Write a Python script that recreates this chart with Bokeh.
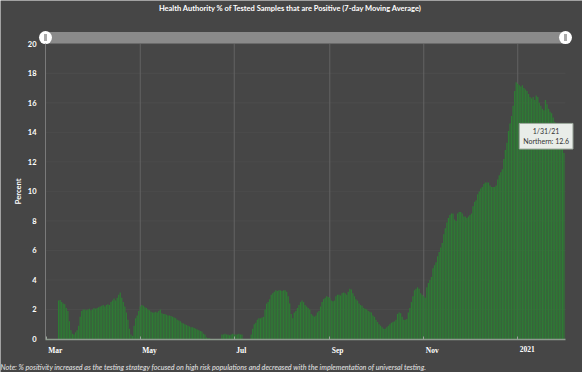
import math
import pandas as pd
from bokeh.plotting import figure
from bokeh.models import Range1d, FixedTicker, Label, LabelSet, ColumnDataSource
from bokeh.embed import file_html
from bokeh.resources import INLINE

# ---------------- data (7-day moving average, % positive) ----------------
first_day = "2020-03-09"
pos_mar = [2.6, 2.65, 2.5, 2.4, 2.35, 2.1, 1.9, 1.2, 0.6, 0.35, 0.3, 0.45, 0.6, 0.9,
           1.5, 1.9, 2.0, 2.0, 1.95, 2.0, 2.05, 1.95, 2.0]
pos_apr = [2.1, 2.05, 2.1, 2.15, 2.2, 2.25, 2.3, 2.2, 2.3, 2.35, 2.3, 2.5, 2.6, 2.75,
           2.6, 2.8, 3.0, 3.15, 2.8, 2.5, 2.2, 1.8, 1.3, 0.7, 0.3, 0.2, 0.9, 1.4, 1.6, 1.9]
pos_may = [2.2, 2.3, 2.25, 2.15, 2.1, 2.0, 1.95, 1.85, 1.8, 1.8, 1.85, 1.8, 1.9, 2.0,
           1.75, 1.7, 1.7, 1.65, 1.6, 1.6, 1.55, 1.5, 1.45, 1.4, 1.3, 1.25, 1.2, 1.1,
           1.05, 1.0, 0.95]
pos_jun = [0.9, 0.85, 0.8, 0.8, 0.75, 0.7, 0.65, 0.6, 0.55, 0.5, 0.35, 0.3, 0.1, 0.05,
           0.05, 0, 0, 0, 0, 0, 0, 0, 0.3, 0.3, 0.35, 0.3, 0.3, 0.25, 0.3, 0.35]
pos_jul = [0.3, 0.3, 0.3, 0.35, 0.3, 0.3, 0, 0, 0, 0, 0, 0.3, 0.7, 1.0, 1.1, 1.3, 1.4,
           1.4, 1.45, 1.5, 2.0, 2.4, 2.5, 2.7, 3.0, 3.1, 3.2, 3.3, 3.25, 3.3, 3.3]
pos_aug = [3.25, 3.3, 3.3, 3.2, 2.9, 2.4, 1.7, 1.4, 1.8, 1.9, 2.1, 2.3, 2.5, 2.6, 2.5,
           2.3, 2.2, 2.1, 2.0, 1.7, 1.6, 1.5, 1.6, 1.8, 1.9, 2.2, 2.5, 2.7, 2.8, 2.9, 2.85]
pos_sep = [2.8, 2.6, 2.55, 2.6, 2.9, 3.0, 3.0, 2.95, 3.1, 3.15, 3.1, 3.0, 3.2, 3.4,
           3.35, 3.1, 2.9, 2.7, 2.6, 2.4, 2.3, 2.25, 2.1, 2.05, 2.0, 1.9, 1.85, 1.8,
           1.6, 1.5]
pos_oct = [1.3, 1.15, 1.0, 0.9, 0.8, 0.7, 0.7, 0.8, 0.9, 1.0, 1.1, 1.15, 1.2, 1.3, 1.7,
           1.8, 1.75, 1.5, 1.3, 1.3, 1.35, 1.8, 2.1, 2.5, 2.9, 3.3, 3.4, 3.5, 3.4, 3.1, 3.0]
pos_nov = [2.9, 2.8, 3.5, 3.8, 4.0, 4.2, 4.8, 5.0, 5.2, 5.6, 5.9, 6.2, 6.5, 7.1, 7.5,
           7.9, 8.2, 8.4, 8.5, 8.5, 8.1, 8.0, 8.5, 8.6, 8.6, 8.5, 8.3, 8.3, 8.2, 8.3]
pos_dec = [8.4, 8.5, 9.0, 9.3, 9.4, 9.8, 10.0, 10.2, 10.3, 10.5, 10.6, 10.6, 10.6, 10.4,
           10.3, 10.3, 10.3, 10.4, 10.8, 11.1, 11.3, 11.5, 12.2, 12.8, 13.3, 14.1, 14.6,
           15.1, 15.8, 16.8, 17.4]
pos_jan = [17.3, 17.2, 17.1, 17.2, 17.0, 16.9, 16.8, 16.6, 16.4, 16.3, 16.4, 16.2, 16.5,
           16.4, 16.0, 15.8, 15.6, 15.5, 16.2, 15.9, 15.6, 15.4, 15.3, 15.0, 14.7, 14.3,
           14.0, 13.7, 13.3, 13.0, 12.6]

positivity = (pos_mar + pos_apr + pos_may + pos_jun + pos_jul + pos_aug + pos_sep +
              pos_oct + pos_nov + pos_dec + pos_jan)
dates = pd.date_range(first_day, periods=len(positivity), freq="D")

series_name = "Northern"
tick_dates = ["2020-03-01", "2020-05-01", "2020-07-01", "2020-09-01", "2020-11-01", "2021-01-01"]
tick_labels = ["Mar", "May", "Jul", "Sep", "Nov", "2021"]
y_ticks = [0, 2, 4, 6, 8, 10, 12, 14, 16, 18, 20]
y_title = "Percent"
title_text = "Health Authority % of Tested Samples that are Positive (7-day Moving Average)"
note_text = ("Note: % positivity increased as the testing strategy focused on high risk "
             "populations and decreased with the implementation of universal testing.")

# ---------------- layout / styling ----------------
W, H = 582, 372
BG = "#464646"
GREEN = "#2e7b34"
FONT = "Lato"
DAY_MS = 86400000.0


def ms(t):
    return pd.Timestamp(t).timestamp() * 1000.0


# plotted domain (what the range scrollbar spans)
x0 = ms(tick_dates[0]) - 0.5 * DAY_MS
x1 = ms(dates[-1]) + DAY_MS
y0, y1 = y_ticks[0], y_ticks[-1]

# the frame covers the whole canvas; axes sit at fixed locations inside it
pad_l, pad_r = 45.0, 17.0          # px left/right of the domain
zero_px, top_px = 338.5, 43.3      # page y of value 0 and of value 20
kx = (W - pad_l - pad_r) / (x1 - x0)
ky = (zero_px - top_px) / (y1 - y0)
xr = Range1d(x0 - pad_l / kx, x1 + pad_r / kx)
yr = Range1d(y0 - (H - zero_px) / ky, y0 + zero_px / ky)

p = figure(width=W, height=H, output_backend="svg", toolbar_location=None,
           x_range=xr, y_range=yr, min_border=0)
p.title.visible = False
p.background_fill_color = BG
p.border_fill_color = BG
p.outline_line_color = None
p.xgrid.visible = False
p.ygrid.visible = False

# grid lines drawn only inside the domain
xt = [ms(d) for d in tick_dates]
p.segment(x0=[x0] * len(y_ticks[1:]), x1=[x1] * len(y_ticks[1:]), y0=y_ticks[1:], y1=y_ticks[1:],
          line_color="#4c4c4c", line_width=1)
p.segment(x0=xt[1:], x1=xt[1:], y0=[y0] * len(xt[1:]), y1=[y1] * len(xt[1:]),
          line_color="#636363", line_width=1)

src = ColumnDataSource(dict(date=dates, value=positivity))
p.vbar(x="date", top="value", width=0.8 * DAY_MS, source=src,
       fill_color=GREEN, line_color=None)

# range scrollbar above the plot
p.quad(left=[x0], right=[x1], bottom=[y1 + 0.02], top=[y1 + 0.8],
       fill_color="#8a8a8a", line_color=None)
p.scatter(x=[x0, x1], y=[y1 + 0.42, y1 + 0.42], size=13, fill_color="white", line_color=None)
p.rect(x=[x0, x1], y=[y1 + 0.42, y1 + 0.42], width=3, height=7, width_units="screen",
       height_units="screen", fill_color="#a9a9a9", line_color=None)

# axes
p.xaxis.fixed_location = y0
p.xaxis.bounds = (x0, x1)
p.xaxis.ticker = FixedTicker(ticks=xt)
p.xaxis.major_label_text_color = None
p.xaxis.axis_line_color = "#8e9c8e"
p.xaxis.axis_line_width = 1.5
p.xaxis.major_tick_line_color = "#9aa59a"
p.xaxis.major_tick_in = 3
p.xaxis.major_tick_out = 0
p.xaxis.minor_tick_line_color = None

# month labels sit just right of their tick
xlab_src = ColumnDataSource(dict(x=xt, y=[y0] * len(xt), text=tick_labels))
p.add_layout(LabelSet(x="x", y="y", text="text", source=xlab_src, x_offset=2, y_offset=-7,
                      text_align="left", text_baseline="top", text_font=FONT,
                      text_font_size="7.5px", text_font_style="bold", text_color="white"))

p.yaxis.fixed_location = x0
p.yaxis.bounds = (y0, y1)
p.yaxis.ticker = FixedTicker(ticks=y_ticks)
p.yaxis.axis_line_color = "#7a7a7a"
p.yaxis.major_tick_line_color = None
p.yaxis.minor_tick_line_color = None
p.yaxis.major_label_text_color = "white"
p.yaxis.major_label_text_font = FONT
p.yaxis.major_label_text_font_size = "7.5px"
p.yaxis.major_label_text_font_style = "bold"
p.yaxis.major_label_standoff = 3

p.add_layout(Label(x=x0, y=(y0 + y1) / 2, x_offset=-27, text=y_title, angle=math.pi / 2,
                   text_align="center", text_baseline="middle", text_font=FONT,
                   text_font_size="7.5px", text_font_style="bold", text_color="white"))

# title and note
p.add_layout(Label(x=290, y=H - 8, x_units="screen", y_units="screen", text=title_text,
                   text_align="center", text_baseline="middle", text_font=FONT,
                   text_font_size="7.5px", text_font_style="bold", text_color="white"))
p.add_layout(Label(x=0, y=H - 366.5, x_units="screen", y_units="screen", text=note_text,
                   text_align="left", text_baseline="middle", text_font=FONT,
                   text_font_size="7.2px", text_font_style="italic", text_color="#e6e6e6"))

# tooltip for the last point
last_d = dates[-1]
tip = Label(x=ms(last_d), y=positivity[-1], x_offset=9, y_offset=4,
            text=f"{last_d.month}/{last_d.day}/{last_d:%y}\n{series_name}: {positivity[-1]}",
            anchor="bottom_right", text_align="center", text_font=FONT,
            text_font_size="7px", text_color="#333333",
            background_fill_color="#e9ede9", border_line_color="#9eaa9e", padding=4)
p.add_layout(tip)

open("out.html", "w").write(file_html(p, INLINE))
